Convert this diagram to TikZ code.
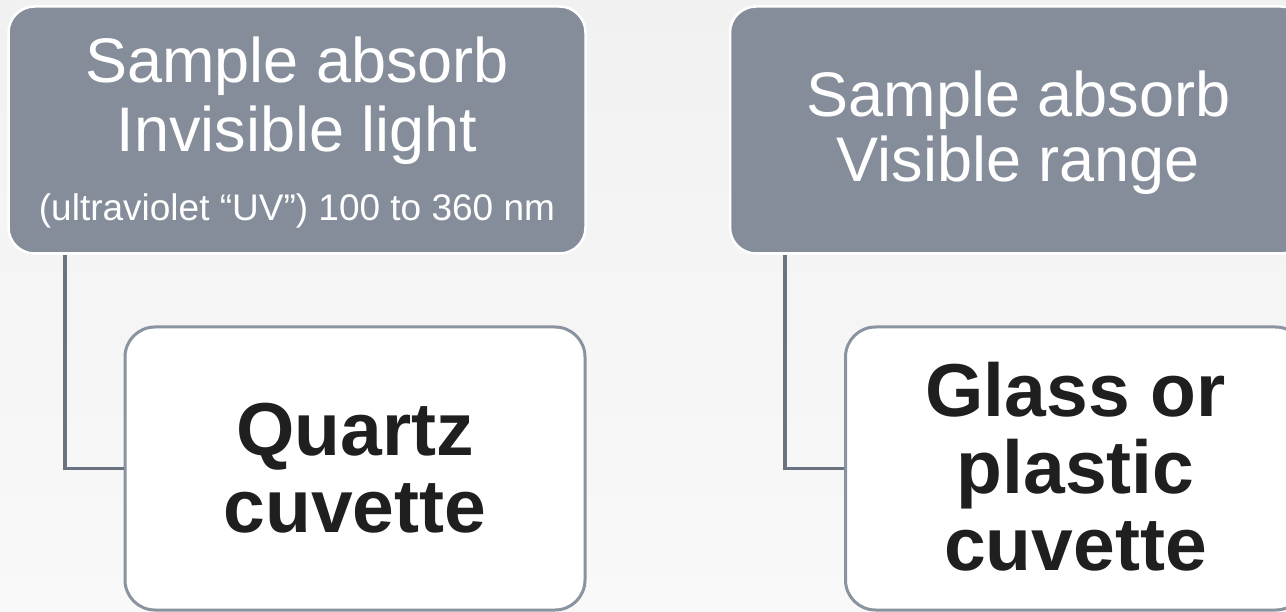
\documentclass[tikz,border=0pt]{standalone}
\usepackage{fontspec}
\setmainfont{Liberation Sans}
\definecolor{topfill}{HTML}{858D9A}
\definecolor{botborder}{HTML}{8A93A0}
\definecolor{connc}{HTML}{6B7380}
\definecolor{textdark}{HTML}{1F1F1F}
\definecolor{bgtop}{HTML}{F1F1F1}
\definecolor{bgbot}{HTML}{F9F9F9}
\begin{document}
\begin{tikzpicture}[x=1pt,y=-1pt,
  topbox/.style={draw=white, line width=2.5pt, fill=topfill, rounded corners=26pt,
    minimum width=577pt, minimum height=247pt, inner sep=0pt},
  botbox/.style={draw=botborder, line width=3pt, fill=white, rounded corners=30pt,
    minimum width=460pt, minimum height=283pt, inner sep=0pt},
  toptext/.style={text=white, font=\fontsize{63}{63}\selectfont, anchor=base, inner sep=0pt},
  subtext/.style={text=white, font=\fontsize{37}{37}\selectfont, anchor=base, inner sep=0pt},
  bottext/.style={text=textdark, font=\bfseries\fontsize{75}{75}\selectfont, anchor=base, inner sep=0pt},
  conn/.style={draw=connc, line width=3.5pt}]
\useasboundingbox (0,0) rectangle (1286,612);
\clip (0,0) rectangle (1286,612);
\shade[top color=bgtop, bottom color=bgbot] (0,0) rectangle (1286,612);

% boxes
\node[topbox] (tl) at (297,130) {};
\node[topbox] (tr) at (1018.5,130) {};
\node[botbox] (bl) at (355,468.5) {};
\node[botbox] (br) at (1075.5,468.5) {};

% connectors
\draw[conn] ([xshift=57.5pt]tl.south west) |- (bl.west);
\draw[conn] ([xshift=56pt]tr.south west) |- (br.west);

% texts
\node[toptext] (tl1) at (297,83) {Sample absorb};
\node[toptext] (tl2) at (297,152) {Invisible light};
\node[subtext] (tl3) at (297,221) {(ultraviolet “UV”) 100 to 360 nm};

\node[toptext] (tr1) at (1018.5,117) {Sample absorb};
\node[toptext] (tr2) at (1018.5,182) {Visible range};

\node[bottext] (bl1) at (355,455) {Quartz};
\node[bottext] (bl2) at (355,532) {cuvette};

\node[bottext] (br1) at (1075.5,417) {Glass or};
\node[bottext] (br2) at (1075.5,493) {plastic};
\node[bottext] (br3) at (1075.5,570) {cuvette};
\end{tikzpicture}
\end{document}
